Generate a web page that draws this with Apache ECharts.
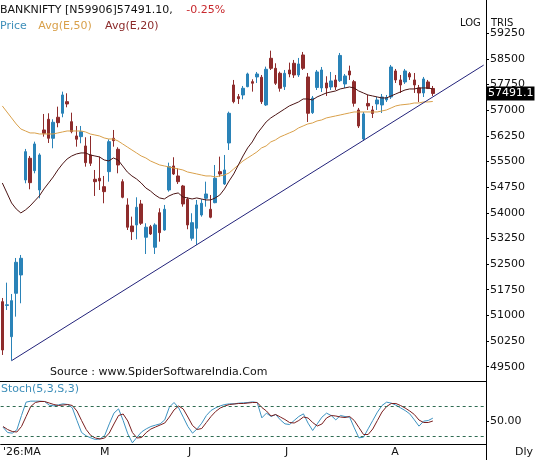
<!DOCTYPE html>
<html>
<head>
<meta charset="utf-8">
<title>BANKNIFTY</title>
<script src="https://cdn.jsdelivr.net/npm/echarts@6/dist/echarts.min.js"></script>
<style>
    html, body { margin: 0; padding: 0; background: #fff; }
    #chart { width: 535px; height: 460px; }
</style>
</head>
<body>
<div id="chart"></div>
<script>
// 日线 K 线数据
const opens = [51401,51290,50377,51646,52182,54961,55596,55233,54668,56423,
    56736,56180,56795,56911,57251,56666,56248,56228,55955,55692,
    54981,55010,54765,55204,56180,55858,54911,54230,53615,53645,
    54259,53285,53595,52992,54004,53498,54668,55370,55078,54785,
    54396,53256,53548,53937,54425,54104,54297,55204,54844,56043,
    57740,57398,57447,57690,57836,57974,57965,57155,58520,58227,
    58081,57690,58178,58374,58032,58617,57974,56930,57667,57652,
    57798,57681,57886,57864,57769,58149,57836,57008,56160,57199,
    57008,57184,57155,57301,57388,58149,57886,57827,58071,57886,
    57652,57506,57827,57637];
const closes = [49988,51310,51431,52553,52670,55789,54882,56014,55692,56326,
    56180,56648,56637,57447,57184,56374,56152,56374,55467,55449,
    54911,54932,54619,56081,56111,55399,54454,53578,53449,54162,
    53694,53578,53381,53645,53420,54104,55350,55136,54911,54259,
    53645,53712,54230,54279,54551,53870,55010,55136,55253,56911,
    57251,57340,57643,58061,57790,58061,57251,58198,58227,57789,
    57643,58081,58061,58032,58354,58227,56911,57359,58120,58178,
    57652,57857,57681,58603,58003,58032,57203,56540,56891,57126,
    56906,57301,57388,57374,58266,57886,57740,58149,57974,57740,
    57506,57915,57635,57491.1];
const lows = [49842,51158,49675,50963,51354,54864,54688,55156,54425,56228,
    56043,55888,56502,56795,57087,56327,55935,56034,55350,55370,
    54493,54668,54279,54911,55935,55156,54425,53498,53206,53226,
    53645,52796,53352,52796,53156,53478,54619,55107,54844,54180,
    53519,53186,53060,53888,54180,53840,54279,55058,54815,55838,
    57203,57184,57320,57673,57544,57798,57184,57126,58178,57740,
    57544,57593,57965,57945,57974,58178,56657,56891,57593,57534,
    57418,57593,57593,57827,57652,57886,57105,56482,56101,57008,
    56774,57008,56920,57242,57330,57798,57506,57769,57886,57506,
    57242,57388,57622,57418];
const highs = [51509,51957,51626,52679,52767,55868,55663,56081,55741,56891,
    56911,56736,57105,57544,57496,56929,56540,56540,56210,56248,
    55253,55643,55078,56150,56423,55917,54981,54425,53888,54454,
    54376,53694,53645,53694,54133,54230,55467,55625,55302,54815,
    54454,53987,54376,54396,54911,54522,55399,55643,55692,56959,
    57886,57476,57710,58099,57906,58120,58032,58276,58743,58374,
    58129,58178,58393,58471,58530,58705,58090,57418,58178,58266,
    57994,58120,58032,58676,58061,58305,57886,57067,56950,57447,
    57126,57388,57476,57447,58325,58208,58032,58208,58120,58090,
    57740,57974,57886,57710];

// 均线 Avg(E,50) / Avg(E,20)
const ema50 = [57126,56950,56775,56599,56452,56394,56336,56336,56306,56306,
    56306,56306,56336,56365,56394,56394,56394,56394,56365,56306,
    56277,56248,56190,56160,56160,56102,56014,55926,55838,55751,
    55663,55605,55517,55458,55400,55371,55341,55312,55283,55254,
    55195,55166,55137,55107,55078,55078,55049,55078,55107,55166,
    55283,55400,55517,55605,55692,55780,55897,55956,56073,56131,
    56219,56277,56336,56394,56482,56541,56599,56628,56687,56716,
    56775,56804,56833,56862,56892,56921,56950,56950,56950,56950,
    56950,56950,56979,57008,57067,57126,57155,57169,57184,57213,
    57213,57243,57243,57257];
const ema20 = [54873,54581,54288,54113,53996,54084,54201,54347,54493,54698,
    54873,55049,55254,55429,55575,55663,55721,55751,55751,55692,
    55663,55634,55546,55517,55605,55546,55371,55195,55078,54990,
    54873,54727,54639,54522,54435,54405,54493,54552,54581,54464,
    54435,54405,54435,54405,54376,54376,54435,54522,54698,54932,
    55137,55400,55663,55897,56073,56307,56482,56658,56775,56862,
    56950,57038,57126,57184,57243,57330,57330,57301,57389,57447,
    57506,57535,57564,57623,57652,57681,57652,57564,57506,57447,
    57418,57389,57360,57360,57418,57477,57535,57593,57623,57623,
    57652,57652,57652,57623];

// 趋势线两端 [x 序号, 值]
const trendStart = [2, 49675];
const trendEnd = [104, 58321];

// Stoch(5,3,S,3)
const stochK = [38.7,28.0,26.7,33.3,62.0,88.7,90.7,90.7,90.7,90.0,
    82.7,81.3,83.3,85.3,84.0,77.3,52.0,28.0,21.3,17.3,
    14.0,15.3,22.0,45.3,66.7,75.3,52.0,25.3,7.3,18.7,
    29.3,35.3,40.0,42.7,45.3,53.3,78.7,88.0,77.3,58.7,
    40.0,26.7,35.3,46.7,62.0,72.0,77.3,81.3,84.0,85.3,
    85.3,86.7,87.3,88.0,89.3,88.0,57.3,66.7,60.0,64.0,
    53.3,45.3,44.0,52.0,60.0,65.3,46.7,32.0,45.3,58.7,
    66.7,62.0,53.3,62.0,60.0,58.7,37.3,17.3,18.7,35.3,
    52.0,68.7,82.0,88.7,86.7,82.7,77.3,72.0,65.3,53.3,
    40.7,50.7,52.0,56.7];
const stochD = [40,34,30,29,40,60,80,88,90,90,
    87,84,82,83,84,82,71,52,34,22,
    17,15,17,27,45,62,65,51,28,17,
    18,28,35,39,43,47,59,73,81,75,
    59,42,34,36,48,60,70,77,81,84,
    85,86,86,87,88,88,78,71,61,64,
    59,54,48,47,52,59,57,48,41,45,
    57,62,61,59,58,60,52,38,24,24,
    35,52,69,80,86,86,82,77,71,64,
    53,48,48,51];
const stochLevels = [80, 20];

// 价格刻度与月份标签
const priceTicks = { min: 49500, max: 59250, step: 750 };
const lastPrice = 57491.1;
const monthTicks = [[0, "'26:MA"], [21, 'M'], [40, 'J'], [61, 'J'], [84, 'A']];
const slotCount = 105;

const categories = [];
for (let i = 0; i < slotCount; i++) {
    categories.push('D' + (i + 1));
}
const candles = opens.map(function (o, i) {
    return [o, closes[i], lows[i], highs[i]];
});
const monthMap = {};
monthTicks.forEach(function (t) { monthMap[t[0]] = t[1]; });

const font = 'DejaVu Sans';
const blue = '#2a83b8';
const maroon = '#8e2c2c';

function richText(color, extra) {
    return Object.assign({ color: color, fontSize: 11, fontFamily: font, fontWeight: 'normal' }, extra || {});
}

let myChart = echarts.init(document.getElementById('chart'));
myChart.setOption({
    animation: false,
    textStyle: { fontFamily: font },
    title: [{
        left: 0, top: 1, padding: 0,
        text: '{k|BANKNIFTY [N59906]57491.10,}  {r|-0.25%}',
        textStyle: {
            fontWeight: 'normal',
            rich: { k: richText('#111'), r: richText('#c8282d', { padding: [0, 0, 0, 2] }) }
        }
    }, {
        left: 0, top: 17, padding: 0,
        text: '{p|Price}  {e|Avg(E,50)}  {t|Avg(E,20)}',
        textStyle: {
            fontWeight: 'normal',
            rich: {
                p: richText('#3d8eb9'),
                e: richText('#d9a04a'),
                t: richText('#8b2a2a', { padding: [0, 0, 0, 2] })
            }
        }
    }, {
        left: 1, top: 384, padding: 0,
        text: 'Stoch(5,3,S,3)',
        textStyle: { color: '#3d8eb9', fontSize: 11, fontWeight: 'normal', fontFamily: font }
    }, {
        left: 50, top: 367, padding: 0,
        text: 'Source : www.SpiderSoftwareIndia.Com',
        textStyle: { color: '#111', fontSize: 11, fontWeight: 'normal', fontFamily: font }
    }],
    graphic: [
        { type: 'line', shape: { x1: 486.5, y1: 0, x2: 486.5, y2: 460 }, style: { stroke: '#000', lineWidth: 1 } },
        { type: 'line', shape: { x1: 0, y1: 381.5, x2: 486, y2: 381.5 }, style: { stroke: '#000', lineWidth: 1 } },
        { type: 'text', left: 460, top: 18, style: { text: 'LOG', fill: '#111', font: '10px ' + font } },
        { type: 'text', left: 491, top: 18, style: { text: 'TRIS', fill: '#111', font: '10px ' + font } },
        { type: 'text', left: 515, top: 447, style: { text: 'Dly', fill: '#111', font: '11px ' + font } }
    ],
    grid: [
        { left: 0, right: 49, top: 33.33, height: 333.33 },
        { left: 0, right: 49, top: 381, height: 63 }
    ],
    xAxis: [{
        type: 'category', gridIndex: 0, data: categories, boundaryGap: true,
        axisLine: { show: false }, axisTick: { show: false }, axisLabel: { show: false }
    }, {
        type: 'category', gridIndex: 1, data: categories, boundaryGap: true,
        axisLine: { show: true, lineStyle: { color: '#000', width: 1 } },
        axisTick: { show: false },
        axisLabel: {
            interval: 0, align: 'left', margin: 3, color: '#111', fontSize: 11,
            formatter: function (v, idx) { return monthMap[idx] || ''; }
        }
    }],
    yAxis: [{
        type: 'value', gridIndex: 0, position: 'right',
        min: priceTicks.min, max: priceTicks.max, interval: priceTicks.step,
        splitLine: { show: false },
        axisLine: { show: false },
        axisTick: { show: true, length: 3, lineStyle: { color: '#000' } },
        axisLabel: {
            margin: 4, color: '#111', fontSize: 11,
            formatter: function (v) { return String(v); }
        }
    }, {
        type: 'value', gridIndex: 1, position: 'right',
        min: 5, max: 131,
        splitLine: { show: false },
        axisLine: { show: false },
        axisTick: { show: true, length: 3, customValues: [50], lineStyle: { color: '#000' } },
        axisLabel: {
            margin: 4, color: '#111', fontSize: 11, customValues: [50],
            formatter: function (v) { return v.toFixed(2); }
        }
    }],
    series: [{
        name: 'Price', type: 'candlestick', xAxisIndex: 0, yAxisIndex: 0,
        data: candles, barWidth: 3,
        itemStyle: { color: blue, color0: maroon, borderColor: blue, borderColor0: maroon, borderWidth: 1 },
        markLine: {
            silent: true, symbol: 'none',
            lineStyle: { color: 'rgba(0,0,0,0)', width: 1 },
            label: {
                show: true, position: 'end', distance: 1,
                formatter: String(lastPrice),
                color: '#fff', backgroundColor: '#000', fontSize: 11,
                fontFamily: font, padding: [2, 1, 1, 1]
            },
            data: [{ yAxis: lastPrice }]
        }
    }, {
        name: 'Avg(E,50)', type: 'line', xAxisIndex: 0, yAxisIndex: 0,
        data: ema50, symbol: 'none', lineStyle: { color: '#d9a04a', width: 1 }
    }, {
        name: 'Avg(E,20)', type: 'line', xAxisIndex: 0, yAxisIndex: 0,
        data: ema20, symbol: 'none', lineStyle: { color: '#4b1414', width: 1 }
    }, {
        name: 'trend', type: 'line', xAxisIndex: 0, yAxisIndex: 0,
        data: [trendStart, trendEnd], symbol: 'none',
        lineStyle: { color: '#22227a', width: 1 }
    }, {
        name: '%K', type: 'line', xAxisIndex: 1, yAxisIndex: 1,
        data: stochK, symbol: 'none', lineStyle: { color: '#3d92c0', width: 1 },
        markLine: {
            silent: true, symbol: 'none',
            label: { show: false },
            lineStyle: { color: '#2f6b52', width: 1, type: [3, 3] },
            data: stochLevels.map(function (v) { return { yAxis: v }; })
        }
    }, {
        name: '%D', type: 'line', xAxisIndex: 1, yAxisIndex: 1,
        data: stochD, symbol: 'none', lineStyle: { color: '#7a1f1f', width: 1 }
    }]
});
</script>
</body>
</html>
